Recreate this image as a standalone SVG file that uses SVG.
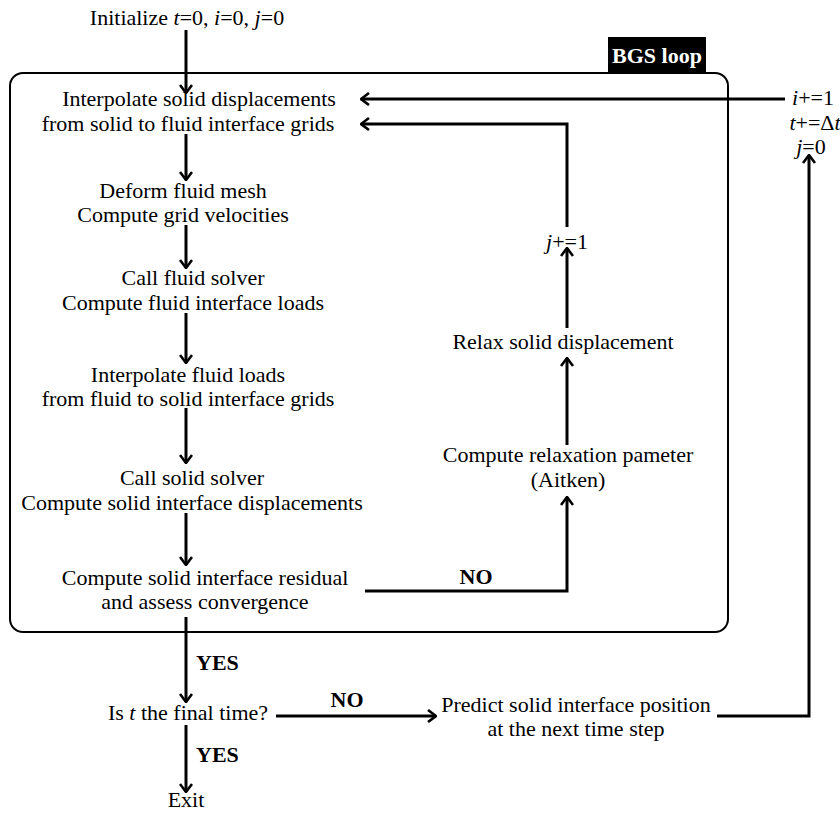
<svg xmlns="http://www.w3.org/2000/svg" width="840" height="814" viewBox="0 0 840 814" font-family="'Liberation Serif', 'Times New Roman', Tinos, 'DejaVu Serif', serif">
<defs>
<marker id="arr" viewBox="0 0 10 14" markerWidth="10" markerHeight="14" refX="9" refY="7" orient="auto" markerUnits="userSpaceOnUse">
<path d="M1,1 L9,7 L1,13" fill="none" stroke="#000" stroke-width="2.6"/>
</marker>
<style>
text{font-family:'Liberation Serif','Times New Roman',Tinos,'DejaVu Serif',serif;font-size:22px;fill:#000;text-anchor:middle}
.b{font-weight:bold}
.it{font-style:italic}
.s{text-anchor:start}
.c{fill:none;stroke:#000;stroke-width:3}
.a{marker-end:url(#arr)}
</style>
</defs>
<rect width="840" height="814" fill="#fff"/>
<g id="bgs-loop">
<rect x="10" y="73" width="718" height="559" rx="13" ry="13" fill="none" stroke="#000" stroke-width="2"/>
<rect x="608" y="37" width="98" height="36" fill="#000"/>
<text x="657" y="63" class="b" style="fill:#fff">BGS loop</text>
</g>
<g id="init"><text x="187" y="25">Initialize <tspan class="it">t</tspan>=0, <tspan class="it">i</tspan>=0, <tspan class="it">j</tspan>=0</text></g>
<g id="interp-disp"><text x="199" y="106">Interpolate solid displacements</text><text x="188" y="131">from solid to fluid interface grids</text></g>
<g id="deform"><text x="183" y="198">Deform fluid mesh</text><text x="183" y="222">Compute grid velocities</text></g>
<g id="fluid"><text x="193" y="285">Call fluid solver</text><text x="193" y="310">Compute fluid interface loads</text></g>
<g id="interp-loads"><text x="188" y="382">Interpolate fluid loads</text><text x="188" y="406">from fluid to solid interface grids</text></g>
<g id="solid"><text x="192" y="485">Call solid solver</text><text x="192" y="510">Compute solid interface displacements</text></g>
<g id="residual"><text x="205" y="585">Compute solid interface residual</text><text x="205" y="609">and assess convergence</text></g>
<g id="aitken"><text x="568" y="462">Compute relaxation pameter</text><text x="568" y="487">(Aitken)</text></g>
<g id="relax"><text x="563" y="349">Relax solid displacement</text></g>
<g id="jinc"><text x="567" y="249"><tspan class="it">j</tspan>+=1</text></g>
<g id="update"><text x="813" y="105"><tspan class="it">i</tspan>+=1</text><text x="815" y="130"><tspan class="it">t</tspan>+=Δ<tspan class="it">t</tspan></text><text x="811" y="154"><tspan class="it">j</tspan>=0</text></g>
<g id="final"><text x="188" y="720">Is <tspan class="it">t</tspan> the final time?</text></g>
<g id="predict"><text x="576" y="712">Predict solid interface position</text><text x="576" y="736">at the next time step</text></g>
<g id="exit"><text x="186" y="807">Exit</text></g>
<g id="connectors">
<path class="c a" d="M186,30 V93"/>
<path class="c a" d="M186,134 V180"/>
<path class="c a" d="M186,225 V268"/>
<path class="c a" d="M186,313 V363"/>
<path class="c a" d="M186,408 V463"/>
<path class="c a" d="M186,513 V565"/>
<path class="c a" d="M186,617 V702"/>
<path class="c a" d="M186,725 V792"/>
<path class="c a" d="M365,591 H567 V497"/>
<path class="c a" d="M567,445 V358"/>
<path class="c a" d="M567,328 V248"/>
<path class="c a" d="M567,227 V124 H361"/>
<path class="c a" d="M785,99 H361"/>
<path class="c a" d="M276,716 H436"/>
<path class="c a" d="M717,716 H809 V155"/>
<text x="476" y="584" class="b">NO</text>
<text x="196" y="670" class="b s">YES</text>
<text x="347" y="707" class="b">NO</text>
<text x="196" y="762" class="b s">YES</text>
</g>
</svg>
